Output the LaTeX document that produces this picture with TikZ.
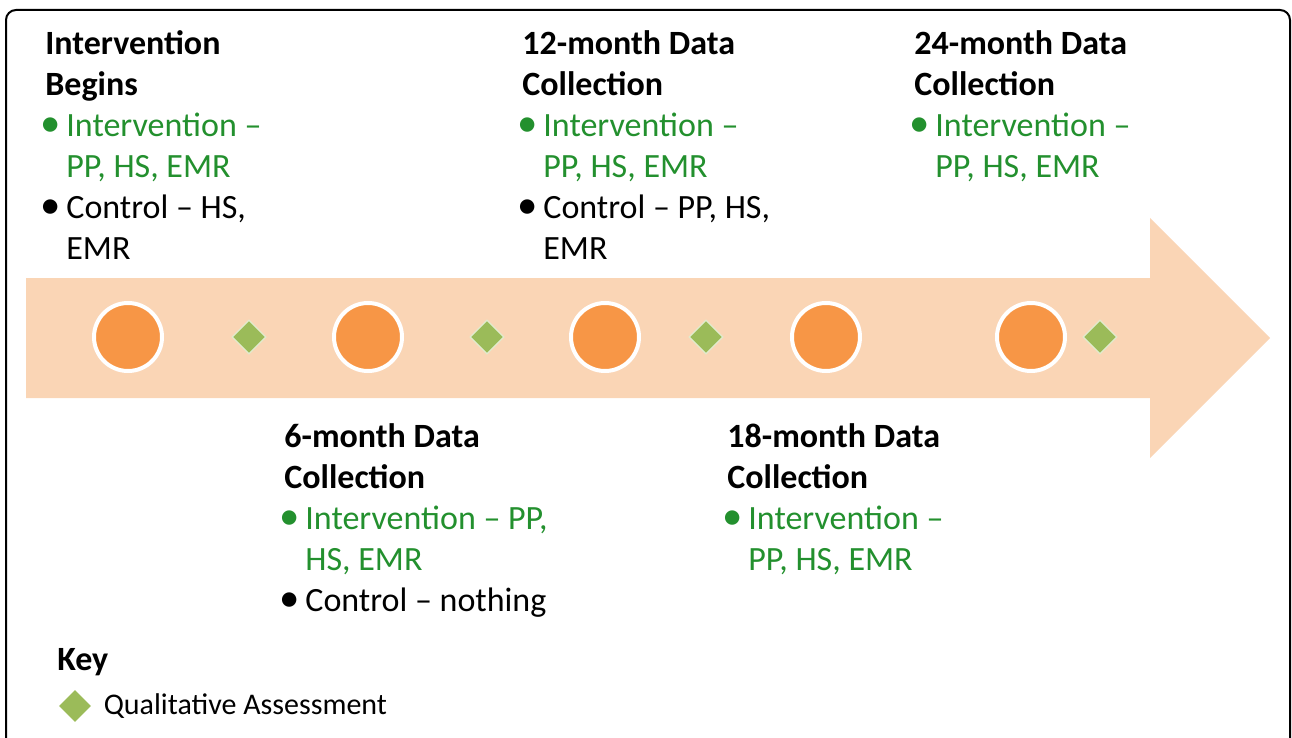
\documentclass[tikz,border=0pt]{standalone}
\usepackage{fontspec}
\setmainfont{Carlito}
\usetikzlibrary{shapes.geometric,positioning}

\definecolor{band}{HTML}{FAD5B5}
\definecolor{dot}{HTML}{F79646}
\definecolor{qual}{HTML}{9BBB59}
\definecolor{grn}{HTML}{23902E}

\newcommand{\hd}[1]{\multicolumn{2}{@{}l@{}}{\bfseries #1}}
\newcommand{\bl}{\makebox[10.5pt][l]{\hspace{-2.5pt}\scalebox{1.2}{•}}}
\newcommand{\gi}[2]{\textcolor{grn}{\bl} & \textcolor{grn}{#1}\\ & \textcolor{grn}{#2}}
\newcommand{\ki}[2]{\bl & #1\\ & #2}

\begin{document}
\begin{tikzpicture}[x=0.5pt, y=-0.5pt,
    visit/.style={circle, fill=dot, draw=white, line width=2pt, minimum size=34pt, inner sep=0pt},
    qa/.style={diamond, fill=qual, draw=white!70!qual, line width=0.6pt, minimum size=17pt, inner sep=0pt},
    block/.style={anchor=north west, inner sep=0pt, font=\fontsize{17}{20.5}\selectfont}]
    \useasboundingbox (0,0) rectangle (1292,738);
    \clip (0,0) rectangle (1292,738);
    \draw[line width=1pt, rounded corners=5pt] (6,10) rectangle (1290,770);

    % timeline arrow
    \fill[band] (26,278) -- (1150,278) -- (1150,218) -- (1270,338) -- (1150,458)
        -- (1150,398) -- (26,398) -- cycle;

    \node[visit] (c0) at (128,337) {};
    \node[qa] (q1) at (249,337) {};
    \node[visit] (c6) at (368,337) {};
    \node[qa] (q2) at (487,337) {};
    \node[visit] (c12) at (605,337) {};
    \node[qa] (q3) at (706,337) {};
    \node[visit] (c18) at (826,337) {};
    \node[visit] (c24) at (1031,337) {};
    \node[qa] (q4) at (1100,337) {};

    % labels above the arrow
    \node[block] (t0) at (45,25) {\begin{tabular}{@{}l@{}l@{}}
        \hd{Intervention}\\ \hd{Begins}\\
        \gi{Intervention –}{PP, HS, EMR}\\
        \ki{Control – HS,}{EMR}
    \end{tabular}};
    \node[block] (t12) at (522,25) {\begin{tabular}{@{}l@{}l@{}}
        \hd{12-month Data}\\ \hd{Collection}\\
        \gi{Intervention –}{PP, HS, EMR}\\
        \ki{Control – PP, HS,}{EMR}
    \end{tabular}};
    \node[block] (t24) at (914,25) {\begin{tabular}{@{}l@{}l@{}}
        \hd{24-month Data}\\ \hd{Collection}\\
        \gi{Intervention –}{PP, HS, EMR}
    \end{tabular}};

    % labels below the arrow
    \node[block] (t6) at (284,418) {\begin{tabular}{@{}l@{}l@{}}
        \hd{6-month Data}\\ \hd{Collection}\\
        \gi{Intervention – PP,}{HS, EMR}\\
        \bl & Control – nothing
    \end{tabular}};
    \node[block] (t18) at (727,418) {\begin{tabular}{@{}l@{}l@{}}
        \hd{18-month Data}\\ \hd{Collection}\\
        \gi{Intervention –}{PP, HS, EMR}
    \end{tabular}};

    % key
    \node[anchor=base west, inner sep=0pt, font=\fontsize{17}{20.5}\selectfont\bfseries] (key) at (57,670) {Key};
    \node[diamond, fill=qual, minimum size=16pt, inner sep=0pt] (kq) at (75,706) {};
    \node[right=6pt of kq, inner sep=0pt, font=\fontsize{15}{18}\selectfont] (kt) {Qualitative Assessment};
\end{tikzpicture}
\end{document}
